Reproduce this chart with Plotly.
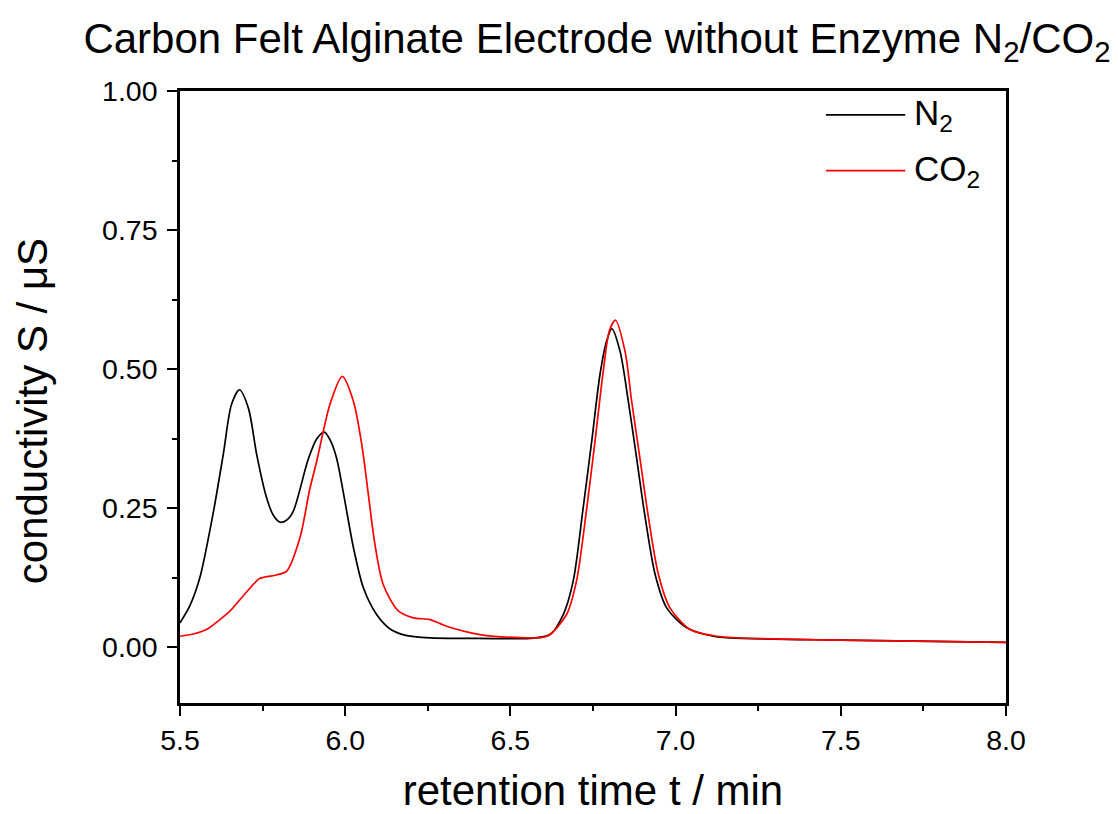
import plotly.graph_objects as go

# Data
t_n2 = [5.50, 5.53, 5.56, 5.60, 5.631, 5.656, 5.68, 5.707, 5.732, 5.762, 5.782, 5.803, 5.823,
        5.843, 5.888, 5.914, 5.937, 5.955, 5.974, 5.999, 6.025, 6.055, 6.095, 6.136, 6.18,
        6.257, 6.40, 6.51, 6.56, 6.62, 6.66, 6.69, 6.72, 6.746, 6.771, 6.791, 6.807, 6.832,
        6.857, 6.882, 6.908, 6.938, 6.973, 7.034, 7.114, 7.165, 7.5, 8.0]
s_n2 = [0.044, 0.075, 0.125, 0.240, 0.347, 0.437, 0.463, 0.430, 0.347, 0.269, 0.238, 0.225, 0.229,
        0.245, 0.338, 0.375, 0.387, 0.372, 0.340, 0.263, 0.179, 0.107, 0.059, 0.033, 0.022,
        0.017, 0.016, 0.0156, 0.016, 0.023, 0.059, 0.119, 0.250, 0.370, 0.490, 0.550, 0.573, 0.532,
        0.442, 0.340, 0.233, 0.131, 0.071, 0.035, 0.020, 0.017, 0.013, 0.009]

t_co2 = [5.50, 5.54, 5.58, 5.621, 5.651, 5.702, 5.742, 5.792, 5.823, 5.863, 5.893, 5.914,
         5.954, 5.991, 6.025, 6.05, 6.07, 6.09, 6.115, 6.16, 6.206, 6.257, 6.307, 6.408,
         6.51, 6.61, 6.67, 6.70, 6.731, 6.756, 6.781, 6.80, 6.818, 6.847, 6.867, 6.892,
         6.918, 6.948, 6.983, 7.044, 7.124, 7.5, 8.0]
s_co2 = [0.020, 0.024, 0.032, 0.050, 0.065, 0.100, 0.124, 0.130, 0.137, 0.197, 0.285, 0.335,
         0.437, 0.487, 0.442, 0.365, 0.275, 0.185, 0.113, 0.066, 0.053, 0.050, 0.038, 0.023,
         0.018, 0.020, 0.059, 0.119, 0.250, 0.370, 0.496, 0.570, 0.588, 0.532, 0.442, 0.340,
         0.233, 0.131, 0.071, 0.032, 0.020, 0.013, 0.009]

x_ticks = [5.5, 6.0, 6.5, 7.0, 7.5, 8.0]
y_ticks = [0.00, 0.25, 0.50, 0.75, 1.00]
series_names = ["N<sub>2</sub>", "CO<sub>2</sub>"]
series_colors = ["#000000", "#FF0000"]

FONT = "Liberation Sans, Arial, sans-serif"

fig = go.Figure()
fig.add_trace(go.Scatter(x=t_n2, y=s_n2, mode="lines", name=series_names[0],
                         line=dict(color=series_colors[0], width=1.7, shape="spline", smoothing=0.8),
                         showlegend=False))
fig.add_trace(go.Scatter(x=t_co2, y=s_co2, mode="lines", name=series_names[1],
                         line=dict(color=series_colors[1], width=1.7, shape="spline", smoothing=0.8),
                         showlegend=False))

# Manual legend (long line samples like the reference)
leg_y = [0.961, 0.870]
for i, (nm, col) in enumerate(zip(series_names, series_colors)):
    fig.add_shape(type="line", xref="paper", yref="paper",
                  x0=0.782, x1=0.878, y0=leg_y[i], y1=leg_y[i],
                  line=dict(color=col, width=1.7))
    fig.add_annotation(xref="paper", yref="paper", x=0.886, y=leg_y[i],
                       text=nm, showarrow=False, xanchor="left", yanchor="middle",
                       font=dict(family=FONT, size=35, color="#000"))

# Y axis title placed as rotated text
fig.add_annotation(xref="paper", yref="paper", x=-0.179, y=0.477,
                   text="conductivity S / \u03bcS", textangle=-90, showarrow=False,
                   xanchor="center", yanchor="middle",
                   font=dict(family=FONT, size=42, color="#000"))

axis_common = dict(
    showline=True, linecolor="#000", linewidth=2.5, mirror=True,
    ticks="outside", ticklen=10, tickwidth=2, tickcolor="#000",
    showgrid=False, zeroline=False, automargin=False,
    tickfont=dict(family=FONT, size=28.5, color="#000"),
)

fig.update_xaxes(range=[5.5, 8.0], tickvals=x_ticks, tickformat=".1f",
                 minor=dict(ticks="outside", ticklen=5, tickwidth=2, tickcolor="#000", dtick=0.25, tick0=5.5, showgrid=False),
                 title=dict(text="retention time t / min", font=dict(family=FONT, size=42, color="#000"), standoff=27),
                 **axis_common)
fig.update_yaxes(range=[-0.1, 1.0], tickvals=y_ticks, tickformat=".2f", ticklabelstandoff=4,
                 minor=dict(ticks="outside", ticklen=5, tickwidth=2, tickcolor="#000", dtick=0.125, tick0=0, showgrid=False),
                 **axis_common)

fig.update_layout(
    width=1118, height=814,
    margin=dict(l=180, r=112, t=91, b=111, autoexpand=False),
    paper_bgcolor="white", plot_bgcolor="white",
    title=dict(text="Carbon Felt Alginate Electrode without Enzyme N<sub>2</sub>/CO<sub>2</sub>",
               font=dict(family=FONT, size=42, color="#000"),
               x=0.534, xanchor="center", y=0.953, yanchor="middle", xref="container"),
)

fig.write_html("out.html")
